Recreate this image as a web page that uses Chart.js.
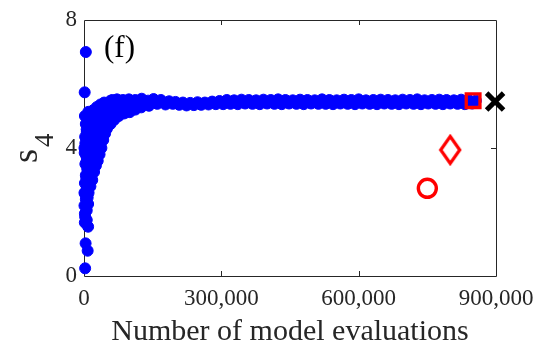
<!DOCTYPE html>
<html>
<head>
<meta charset="utf-8">
<script src="https://cdn.jsdelivr.net/npm/chart.js@4.4.0/dist/chart.umd.min.js"></script>
<style>
  html, body { margin: 0; padding: 0; background: #fff; }
</style>
</head>
<body>
<canvas id="chart" width="538" height="347"></canvas>
<script>
// tick values
const xTicks = [0, 300000, 600000, 900000]
const yTicks = [0, 4, 8]

// blue run: first part, [evaluations, s4]
const earlyRun = [
  [4000, 7.0], [1500, 5.74], [2500, 0.24], [3500, 1.02], [8000, 0.79], [1800, 1.67], [9000, 1.54],
  [2500, 1.85], [6000, 1.75],
  [2000, 1.95], [6000, 2.05], [1000, 2.2], [9000, 2.25], [4000, 2.4], [8000, 2.45],
  [3000, 2.55], [1000, 2.6], [10000, 2.6], [6000, 2.75], [14000, 2.8], [2000, 2.9], [18000, 3.0], [9000, 3.0],
  [5000, 3.05], [4000, 3.15], [13000, 3.2], [22000, 3.25], [7000, 3.35], [26000, 3.45], [11000, 3.45], [17000, 3.4], [3000, 3.5],
  [10000, 3.6], [6000, 3.6], [30000, 3.6], [21000, 3.7], [5000, 3.75], [34000, 3.8], [14000, 3.85], [1500, 3.85],
  [26000, 3.95], [8000, 4.0], [1000, 4.0], [38000, 4.0],
  [18000, 4.1], [3000, 4.15], [31000, 4.2], [7000, 4.25], [42000, 4.25], [12000, 4.3], [2500, 4.35], [24000, 4.4],
  [46000, 4.45], [36000, 4.45], [6000, 4.5],
  [17000, 4.55], [12000, 4.55], [5800, 4.58], [50000, 4.6], [29000, 4.62], [13000, 4.67], [42000, 4.7], [58000, 4.75],
  [4000, 4.75], [22000, 4.8], [9000, 4.8], [35000, 4.85], [66000, 4.88], [49000, 4.9], [14000, 4.95],
  [2000, 5.0], [9400, 5.13], [27000, 5.05], [41000, 5.08], [57000, 5.05], [76000, 5.0], [88000, 5.08],
  [20000, 5.18], [34000, 5.22], [48000, 5.2], [65000, 5.18], [100000, 5.12], [112000, 5.2], [80000, 5.25], [125000, 5.27],
  [28000, 5.28], [36000, 5.36], [44000, 5.42], [58000, 5.48], [52000, 5.33], [70000, 5.38], [62000, 5.5], [72000, 5.52],
  [92000, 5.35], [85000, 5.5], [104000, 5.4], [98000, 5.52], [118000, 5.35], [112000, 5.5], [130000, 5.42], [126000, 5.54],
  [140000, 5.48], [142000, 5.32], [152000, 5.53], [160000, 5.38], [168000, 5.5], [178000, 5.36], [186000, 5.46], [194000, 5.38]
]

// blue run: plateau, [evaluations, s4]
const plateauRun = [
  [200000, 5.44], [208000, 5.35], [216000, 5.42], [224000, 5.33], [232000, 5.41], [240000, 5.34], [248000, 5.43],
  [256000, 5.35], [264000, 5.42], [272000, 5.36], [280000, 5.45], [288000, 5.37], [296000, 5.47], [304000, 5.37],
  [312000, 5.50], [320000, 5.38], [328000, 5.49], [336000, 5.37], [344000, 5.51], [352000, 5.39], [360000, 5.50],
  [368000, 5.38], [376000, 5.49], [384000, 5.37], [392000, 5.51], [400000, 5.39], [408000, 5.50], [416000, 5.38],
  [424000, 5.52], [432000, 5.37], [440000, 5.50], [448000, 5.39], [456000, 5.49], [464000, 5.38], [472000, 5.51],
  [480000, 5.37], [488000, 5.50], [496000, 5.39], [504000, 5.49], [512000, 5.38], [520000, 5.52], [528000, 5.38],
  [536000, 5.50], [544000, 5.37], [552000, 5.49], [560000, 5.39], [568000, 5.51], [576000, 5.38], [584000, 5.50],
  [592000, 5.37], [600000, 5.52], [608000, 5.39], [616000, 5.49], [624000, 5.38], [632000, 5.50], [640000, 5.37],
  [648000, 5.51], [656000, 5.39], [664000, 5.50], [672000, 5.38], [680000, 5.49], [688000, 5.37], [696000, 5.51],
  [704000, 5.39], [712000, 5.50], [720000, 5.38], [728000, 5.52], [736000, 5.37], [744000, 5.49], [752000, 5.39],
  [760000, 5.50], [768000, 5.38], [776000, 5.51], [784000, 5.37], [792000, 5.50], [800000, 5.39], [808000, 5.49],
  [816000, 5.38], [824000, 5.51], [832000, 5.37], [840000, 5.50], [848000, 5.39], [856000, 5.48]
]

// single markers
const circlePoint = [750000, 2.74]
const diamondPoint = [800000, 3.94]
const squarePoint = [850000, 5.48]
const crossPoint = [898000, 5.45]

const toXY = (arr) => arr.map(p => ({x: p[0], y: p[1]}))

// tall diamond marker
function makeDiamond() {
  let c = document.createElement('canvas')
  c.width = 24
  c.height = 32
  let g = c.getContext('2d')
  g.strokeStyle = '#ff0000'
  g.lineWidth = 3.2
  g.lineJoin = 'miter'
  g.beginPath()
  g.moveTo(12, 2.5)
  g.lineTo(21.5, 16)
  g.lineTo(12, 29.5)
  g.lineTo(2.5, 16)
  g.closePath()
  g.stroke()
  return c
}

const ink = '#262626'
Chart.defaults.font.family = "'Liberation Serif', 'DejaVu Serif', serif"
Chart.defaults.color = ink

const framePlugin = {
  id: 'frame',
  beforeDatasetsDraw(chart) {
    let {ctx, chartArea: a, scales: {x, y}} = chart
    ctx.save()
    ctx.strokeStyle = ink
    ctx.lineWidth = 1
    ctx.beginPath()
    ctx.rect(a.left + 0.5, a.top + 0.5, a.right - a.left, a.bottom - a.top)
    for (let v of xTicks.slice(1, -1)) {
      let px = Math.round(x.getPixelForValue(v)) + 0.5
      ctx.moveTo(px, a.bottom); ctx.lineTo(px, a.bottom - 5)
      ctx.moveTo(px, a.top); ctx.lineTo(px, a.top + 5)
    }
    for (let v of yTicks.slice(1, -1)) {
      let py = Math.round(y.getPixelForValue(v)) + 0.5
      ctx.moveTo(a.left, py); ctx.lineTo(a.left + 5, py)
      ctx.moveTo(a.right, py); ctx.lineTo(a.right - 5, py)
    }
    ctx.stroke()
    ctx.restore()
  },
  afterDraw(chart) {
    let ctx = chart.ctx
    ctx.save()
    ctx.fillStyle = '#000'
    ctx.textBaseline = 'alphabetic'
    ctx.font = "31px 'Liberation Serif'"
    ctx.fillText('(f)', 104, 57)
    // y axis title: s with subscript 4
    ctx.fillStyle = ink
    ctx.translate(37, 163)
    ctx.rotate(-Math.PI / 2)
    ctx.font = "36px 'Liberation Serif'"
    ctx.fillText('s', 0, 0)
    ctx.font = "27px 'Liberation Serif'"
    ctx.fillText('4', 16, 16)
    ctx.restore()
  }
}

new Chart(document.getElementById('chart'), {
  type: 'scatter',
  data: {
    datasets: [
      {
        label: 'circle',
        data: toXY([circlePoint]),
        pointStyle: 'circle',
        pointRadius: 9,
        borderColor: '#ff0000',
        backgroundColor: 'rgba(0,0,0,0)',
        borderWidth: 3.4,
        clip: false,
        order: 0
      },
      {
        label: 'diamond',
        data: toXY([diamondPoint]),
        pointStyle: makeDiamond(),
        clip: false,
        order: 0
      },
      {
        label: 'square',
        data: toXY([squarePoint]),
        pointStyle: 'rect',
        pointRadius: 9.7,
        borderColor: '#ff0000',
        backgroundColor: 'rgba(0,0,0,0)',
        borderWidth: 3.3,
        clip: false,
        order: 0
      },
      {
        label: 'cross',
        data: toXY([crossPoint]),
        pointStyle: 'crossRot',
        pointRadius: 12,
        borderColor: '#000000',
        borderWidth: 5,
        clip: false,
        order: 0
      },
      {
        label: 'run',
        data: toXY(earlyRun.concat(plateauRun)),
        pointStyle: 'circle',
        pointRadius: 5.5,
        backgroundColor: '#0000ff',
        borderColor: '#0000ff',
        borderWidth: 1,
        clip: false,
        order: 1
      }
    ]
  },
  options: {
    responsive: false,
    animation: false,
    events: [],
    layout: {padding: {top: 20, right: 42, left: 0, bottom: 0}},
    plugins: {legend: {display: false}, tooltip: {enabled: false}},
    scales: {
      x: {
        type: 'linear',
        min: 0,
        max: 900000,
        afterBuildTicks: (s) => { s.ticks = xTicks.map(v => ({value: v})) },
        afterFit: (s) => { s.height = 71; s.paddingLeft = 0; s.paddingRight = 0 },
        grid: {display: false, drawTicks: false},
        border: {display: false},
        ticks: {
          padding: 9,
          font: {size: 23},
          color: ink,
          maxRotation: 0,
          callback: (v) => v.toLocaleString('en-US')
        },
        title: {
          display: true,
          text: 'Number of model evaluations',
          font: {size: 30, lineHeight: 1},
          color: ink,
          padding: {top: 0, bottom: 0}
        }
      },
      y: {
        type: 'linear',
        min: 0,
        max: 8,
        afterBuildTicks: (s) => { s.ticks = yTicks.map(v => ({value: v})) },
        afterFit: (s) => { s.width = 84; s.paddingTop = 0; s.paddingBottom = 0 },
        grid: {display: false, drawTicks: false},
        border: {display: false},
        ticks: {padding: 7, font: {size: 23}, color: ink}
      }
    }
  },
  plugins: [framePlugin]
})
</script>
</body>
</html>
